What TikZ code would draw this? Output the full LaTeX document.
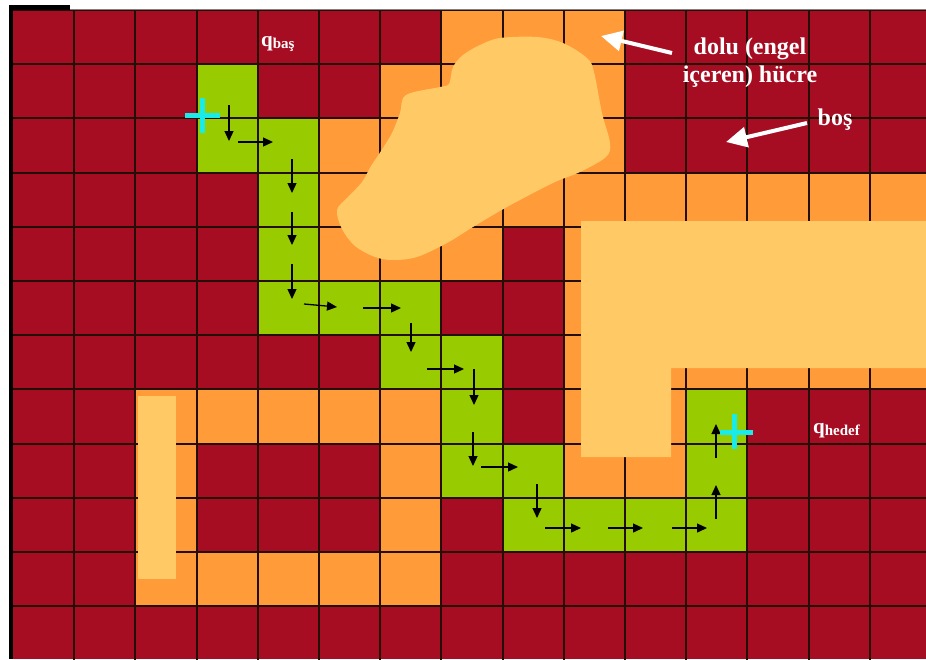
\documentclass[tikz,border=0pt]{standalone}
\usepackage{fontspec}
\setmainfont{Liberation Serif}
\usetikzlibrary{arrows.meta}
\definecolor{cellred}{RGB}{166,13,35}
\definecolor{cellorange}{RGB}{255,155,56}
\definecolor{obst}{RGB}{255,201,102}
\definecolor{cellgreen}{RGB}{153,204,0}
\definecolor{gridc}{RGB}{35,15,5}
\definecolor{markc}{RGB}{25,235,235}
\tikzset{
  gridline/.style={gridc,line width=1.9pt},
  parrow/.style={black,line width=1.3pt,-{Triangle[length=10pt,width=9pt]}},
  lblarrow/.style={white,line width=4pt,-{Triangle[length=21pt,width=20pt]}},
  crossmark/.style={markc,line width=5pt},
  lbl/.style={text=white,font=\fontsize{24}{28}\selectfont\bfseries,inner sep=0pt,align=center},
  qlbl/.style={text=white,inner sep=0pt,anchor=base west}
}
\begin{document}
\begin{tikzpicture}[x=1pt,y=-1pt]
\useasboundingbox (0,0) rectangle (926,659);
\fill[white] (0,0) rectangle (926,659);
\fill[cellred] (13,10) rectangle (926,659);
\begin{scope}[shift={(13,10)},x=61.2pt,y=-54.2pt]
  \foreach \c/\r in {7/0,8/0,9/0, 6/1,7/1,8/1,9/1, 5/2,6/2,7/2,8/2,9/2,
     5/3,6/3,7/3,8/3,9/3,10/3,11/3,12/3,13/3,14/3,
     5/4,6/4,7/4,9/4,10/4,11/4,12/4,13/4,14/4,
     9/5,10/5,11/5,12/5,13/5,14/5, 9/6,10/6,11/6,12/6,13/6,14/6,
     2/7,3/7,4/7,5/7,6/7,9/7,10/7, 2/8,6/8,9/8,10/8, 2/9,6/9,
     2/10,3/10,4/10,5/10,6/10}
    \fill[cellorange] (\c,\r) rectangle ++(1,1);
  \foreach \c/\r in {3/1,3/2,4/2,4/3,4/4,4/5,5/5,6/5,6/6,7/6,7/7,7/8,8/8,8/9,9/9,10/9,11/9,11/8,11/7}
    \fill[cellgreen] (\c,\r) rectangle ++(1,1);
  \foreach \c in {1,...,14} \draw[gridline] (\c,0) -- (\c,12);
  \foreach \r in {0,...,11} \draw[gridline] (0,\r) -- (15,\r);
\end{scope}
% window border
\fill[black] (9,5) rectangle (13,659);
\fill[black] (9,5) rectangle (70,10);
\draw[gray,line width=1pt] (70,9.5) -- (926,9.5);
% obstacles
\fill[obst] (138,396) rectangle (176,579);
\fill[obst] (581,221) -- (926,221) -- (926,368) -- (671,368) -- (671,457) -- (581,457) -- cycle;
\fill[obst] plot[smooth cycle,tension=0.55] coordinates {
 (500,38) (537,37) (563,43) (587,58) (594,72) (602,113) (610,143) (606,157)
 (580,172) (553,183) (507,207) (473,227) (447,243) (417,257) (393,260) (375,257)
 (355,246) (342,229) (337,210) (348,197) (362,182) (371,166) (381,151) (392,133)
 (400,113) (406,95) (440,87) (449,84) (453,67) (463,55) (480,45)};
% path arrows
\foreach \xa/\ya/\xb/\yb in {229/105/229/141, 238/142/273/142, 292/159/292/193,
  292/212/292/245, 292/264/292/299, 304/304/337/307, 363/308/401/308,
  411/323/411/352, 427/369/464/369, 474/369/474/405, 473/432/473/466,
  481/467/518/467, 537/484/537/518, 545/528/581/528, 608/528/643/528,
  672/528/707/528, 716/519/716/485, 716/458/716/424}
  \draw[parrow] (\xa,\ya) -- (\xb,\yb);
% start / goal marks
\draw[crossmark] (185,115) -- (220,115) (202,98) -- (202,133);
\draw[crossmark] (720,432) -- (753,432) (734,414) -- (734,449);
% labels
\node[qlbl] (qbas) at (261,46) {\fontsize{21}{21}\selectfont\bfseries q\raisebox{-2pt}{\fontsize{15}{15}\selectfont baş}};
\node[qlbl] (qhedef) at (813,433) {\fontsize{21}{21}\selectfont\bfseries q\raisebox{-2pt}{\fontsize{15}{15}\selectfont hedef}};
\node[lbl] (dolu) at (750,63) {dolu (engel\\içeren) hücre};
\node[lbl] (bos) at (835,120) {boş};
\coordinate (doluTail) at (672,53);
\coordinate (doluTip) at (601,36);
\coordinate (bosTail) at (807,123);
\coordinate (bosTip) at (726,142);
\draw[lblarrow] (doluTail) -- (doluTip);
\draw[lblarrow] (bosTail) -- (bosTip);
\end{tikzpicture}
\end{document}
